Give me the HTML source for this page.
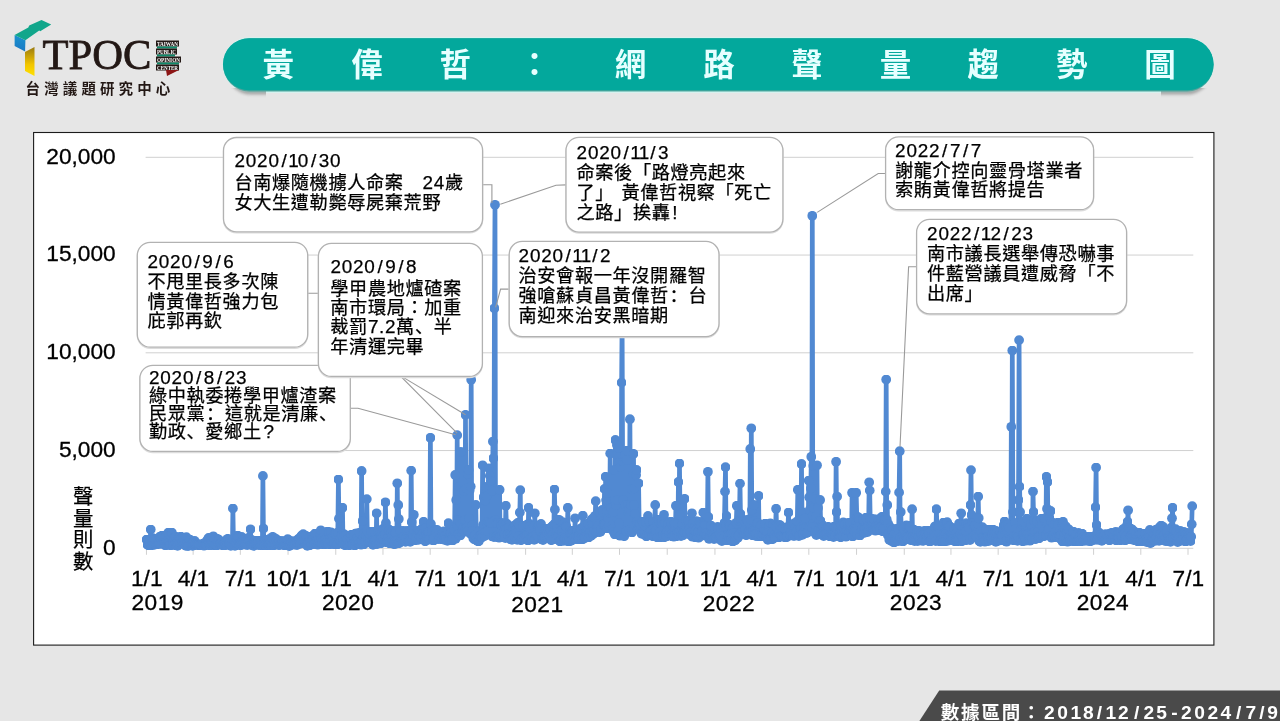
<!DOCTYPE html>
<html lang="zh-Hant">
<head>
<meta charset="utf-8">
<title>黃偉哲：網路聲量趨勢圖</title>
<style>
html,body{margin:0;padding:0;background:#e6e6e6;}
body{width:1280px;height:721px;overflow:hidden;font-family:'Liberation Sans', 'Noto Sans CJK TC', sans-serif;}
svg{display:block;position:absolute;left:0;top:0;}
text{font-family:'Liberation Sans', 'Noto Sans CJK TC', sans-serif;}
.jp{font-family:'Liberation Sans','Noto Sans CJK JP',sans-serif;}
.sc{font-family:'Liberation Sans','Noto Sans CJK SC',sans-serif;}
</style>
</head>
<body>
<svg width="1280" height="721" viewBox="0 0 1280 721">
<defs>
<linearGradient id="gy" x1="0" y1="0" x2="0" y2="1"><stop offset="0" stop-color="#9a7a10"/><stop offset="0.6" stop-color="#f2c500"/><stop offset="1" stop-color="#ffe100"/></linearGradient>
<filter id="sh" x="-5%" y="-20%" width="110%" height="150%"><feGaussianBlur stdDeviation="1.6"/></filter>
</defs>
<rect width="1280" height="721" fill="#e6e6e6"/>
<g id="logo">
<linearGradient id="gb" x1="0" y1="0" x2="0" y2="1"><stop offset="0" stop-color="#1a93cf"/><stop offset="1" stop-color="#1b78c4"/></linearGradient>
<polygon points="14.6,35 25.4,40.2 25.1,51.6 14.6,45.9" fill="url(#gb)"/>
<polygon points="14.6,35 28.3,27.5 29.2,25.6 41.5,19.9 51.2,24.6 40.2,31.2 39.2,30.4 25.4,40.2" fill="#11a68b"/>
<polygon points="25,52 34.5,47 34.5,76 25,71" fill="url(#gy)"/>
<text x="42.6" y="68.8" font-size="42.5" style="font-family:'Liberation Serif', 'Noto Serif CJK SC', serif" fill="#231815" stroke="#231815" stroke-width="0.8" textLength="108.8" lengthAdjust="spacingAndGlyphs">TPOC</text>
<g font-size="5.4" font-weight="bold" fill="#fff">
<rect x="156" y="40.5" width="23" height="6" fill="#231815"/>
<text x="157" y="45.5" style="font-family:'Liberation Serif', 'Noto Serif CJK SC', serif" textLength="21" lengthAdjust="spacingAndGlyphs">TAIWAN</text>
<rect x="157" y="46.5" width="20" height="2" fill="#0f8a6a"/>
<rect x="156" y="48.5" width="21" height="6" fill="#231815"/>
<text x="157" y="53.5" style="font-family:'Liberation Serif', 'Noto Serif CJK SC', serif" textLength="19" lengthAdjust="spacingAndGlyphs">PUBLIC</text>
<rect x="157" y="54.5" width="18" height="2" fill="#0f8a6a"/>
<rect x="156" y="56.5" width="25" height="6" fill="#231815"/>
<text x="157" y="61.5" style="font-family:'Liberation Serif', 'Noto Serif CJK SC', serif" textLength="23" lengthAdjust="spacingAndGlyphs">OPINION</text>
<rect x="157" y="62.5" width="22" height="2" fill="#0f8a6a"/>
<rect x="156" y="64.5" width="23" height="6" fill="#231815"/>
<text x="157" y="69.5" style="font-family:'Liberation Serif', 'Noto Serif CJK SC', serif" textLength="21" lengthAdjust="spacingAndGlyphs">CENTER</text>
</g>
<polygon points="166,70 179,70 167,76" fill="#8c1515"/>
<text x="25.6" y="94.4" font-size="14.5" font-weight="bold" fill="#231815" letter-spacing="4.1">台灣議題研究中心</text>
</g>
<g id="banner">
<rect x="222.5" y="37.2" width="991.4" height="55.5" rx="27.7" fill="#d3f6f2"/>
<clipPath id="capL"><rect x="224" y="88" width="42" height="12"/></clipPath>
<clipPath id="capR"><rect x="1161" y="88" width="56" height="12"/></clipPath>
<g clip-path="url(#capL)"><rect x="226" y="44" width="988" height="50.6" rx="25.3" fill="#4d4d4d" opacity="0.42" filter="url(#sh)"/></g>
<g clip-path="url(#capR)"><rect x="224" y="44" width="988" height="50.6" rx="25.3" fill="#4d4d4d" opacity="0.42" filter="url(#sh)"/></g>
<rect x="223" y="38.2" width="990.6" height="53.3" rx="26.6" fill="#4fa39b"/>
<rect x="223" y="38.2" width="990.6" height="52" rx="26" fill="#03a89c"/>
<text id="title" x="278.3 367.0 455.3 534.6 630.4 719.0 807.1 895.6 983.3 1071.8 1160.0" y="75.9" font-size="31.5" font-weight="bold" fill="#e6ffff" text-anchor="middle">黃偉哲：網路聲量趨勢圖</text>
</g>
<g id="chart">
<rect x="33.6" y="132.5" width="1180.3" height="512.6" fill="#fff" stroke="#1c1c1c" stroke-width="1.1"/>
<g stroke="#d0d0d0" stroke-width="1">
<line x1="145.6" x2="1193.3" y1="548.30" y2="548.30"/>
<line x1="145.6" x2="1193.3" y1="450.55" y2="450.55"/>
<line x1="145.6" x2="1193.3" y1="352.80" y2="352.80"/>
<line x1="145.6" x2="1193.3" y1="255.05" y2="255.05"/>
<line x1="145.6" x2="1193.3" y1="157.30" y2="157.30"/>
<line x1="146.45" x2="146.45" y1="548.3" y2="554.8"/>
<line x1="193.13" x2="193.13" y1="548.3" y2="554.8"/>
<line x1="240.33" x2="240.33" y1="548.3" y2="554.8"/>
<line x1="288.06" x2="288.06" y1="548.3" y2="554.8"/>
<line x1="335.78" x2="335.78" y1="548.3" y2="554.8"/>
<line x1="382.98" x2="382.98" y1="548.3" y2="554.8"/>
<line x1="430.18" x2="430.18" y1="548.3" y2="554.8"/>
<line x1="477.90" x2="477.90" y1="548.3" y2="554.8"/>
<line x1="525.62" x2="525.62" y1="548.3" y2="554.8"/>
<line x1="572.30" x2="572.30" y1="548.3" y2="554.8"/>
<line x1="619.50" x2="619.50" y1="548.3" y2="554.8"/>
<line x1="667.22" x2="667.22" y1="548.3" y2="554.8"/>
<line x1="714.95" x2="714.95" y1="548.3" y2="554.8"/>
<line x1="761.63" x2="761.63" y1="548.3" y2="554.8"/>
<line x1="808.83" x2="808.83" y1="548.3" y2="554.8"/>
<line x1="856.55" x2="856.55" y1="548.3" y2="554.8"/>
<line x1="904.27" x2="904.27" y1="548.3" y2="554.8"/>
<line x1="950.95" x2="950.95" y1="548.3" y2="554.8"/>
<line x1="998.16" x2="998.16" y1="548.3" y2="554.8"/>
<line x1="1045.88" x2="1045.88" y1="548.3" y2="554.8"/>
<line x1="1093.60" x2="1093.60" y1="548.3" y2="554.8"/>
<line x1="1140.80" x2="1140.80" y1="548.3" y2="554.8"/>
<line x1="1188.00" x2="1188.00" y1="548.3" y2="554.8"/>
</g>
<g font-size="22.7" fill="#000" stroke="#000" stroke-width="0.3">
<text x="115.7" y="554.50" text-anchor="end">0</text>
<text x="115.7" y="456.75" text-anchor="end">5,000</text>
<text x="115.7" y="359.00" text-anchor="end">10,000</text>
<text x="115.7" y="261.25" text-anchor="end">15,000</text>
<text x="115.7" y="163.50" text-anchor="end">20,000</text>
<text x="146.75" y="586" text-anchor="middle">1/1</text>
<text x="131.55" y="609.50" letter-spacing="0.45">2019</text>
<text x="193.43" y="586" text-anchor="middle">4/1</text>
<text x="240.63" y="586" text-anchor="middle">7/1</text>
<text x="288.36" y="586" text-anchor="middle">10/1</text>
<text x="336.08" y="586" text-anchor="middle">1/1</text>
<text x="321.98" y="609.80" letter-spacing="0.45">2020</text>
<text x="383.28" y="586" text-anchor="middle">4/1</text>
<text x="430.48" y="586" text-anchor="middle">7/1</text>
<text x="478.20" y="586" text-anchor="middle">10/1</text>
<text x="525.92" y="586" text-anchor="middle">1/1</text>
<text x="511.22" y="612.30" letter-spacing="0.45">2021</text>
<text x="572.60" y="586" text-anchor="middle">4/1</text>
<text x="619.80" y="586" text-anchor="middle">7/1</text>
<text x="667.52" y="586" text-anchor="middle">10/1</text>
<text x="715.25" y="586" text-anchor="middle">1/1</text>
<text x="702.75" y="610.50" letter-spacing="0.45">2022</text>
<text x="761.93" y="586" text-anchor="middle">4/1</text>
<text x="809.13" y="586" text-anchor="middle">7/1</text>
<text x="856.85" y="586" text-anchor="middle">10/1</text>
<text x="904.57" y="586" text-anchor="middle">1/1</text>
<text x="889.87" y="609.80" letter-spacing="0.45">2023</text>
<text x="951.25" y="586" text-anchor="middle">4/1</text>
<text x="998.46" y="586" text-anchor="middle">7/1</text>
<text x="1046.18" y="586" text-anchor="middle">10/1</text>
<text x="1093.90" y="586" text-anchor="middle">1/1</text>
<text x="1076.80" y="610.20" letter-spacing="0.45">2024</text>
<text x="1141.10" y="586" text-anchor="middle">4/1</text>
<text x="1188.30" y="586" text-anchor="middle">7/1</text>
</g>
<text x="83.3 83.3 83.3 83.3" y="504.0 525.6 547.2 568.8" font-size="20.4" fill="#000" text-anchor="middle" stroke="#000" stroke-width="0.25">聲量則數</text>
<marker id="dot" viewBox="0 0 10 10" refX="5" refY="5" markerWidth="9.8" markerHeight="9.8" markerUnits="userSpaceOnUse"><circle cx="5" cy="5" r="5" fill="#5189d2"/></marker>
<polyline id="series" points="146.6,539.6 147.1,539.6 147.6,544.9 148.2,545.1 148.7,544.8 149.2,545.3 149.7,542.4 150.2,539.4 150.7,529.5 151.3,545.4 151.8,544.6 152.3,541.7 152.8,538.2 153.3,542.0 153.8,539.2 154.4,544.8 154.9,544.4 155.4,540.8 155.9,544.2 156.4,539.2 156.9,544.6 157.5,539.0 158.0,543.4 158.5,539.6 159.0,543.3 159.5,543.3 160.0,536.5 160.6,543.8 161.1,538.5 161.6,536.5 162.1,535.5 162.6,538.0 163.1,535.9 163.7,543.9 164.2,541.7 164.7,537.0 165.2,545.3 165.7,537.1 166.2,542.5 166.8,545.1 167.3,542.5 167.8,540.2 168.3,532.6 168.8,541.3 169.3,543.2 169.9,545.0 170.4,544.8 170.9,535.4 171.4,545.2 171.9,532.6 172.4,544.4 173.0,544.5 173.5,541.2 174.0,538.1 174.5,544.6 175.0,537.0 175.5,536.6 176.1,545.6 176.6,542.9 177.1,543.0 177.6,545.8 178.1,539.5 178.6,544.3 179.2,537.6 179.7,542.1 180.2,538.2 180.7,536.5 181.2,538.2 181.7,543.4 182.3,541.4 182.8,537.4 183.3,537.7 183.8,541.6 184.3,539.0 184.8,544.8 185.4,541.8 185.9,545.8 186.4,537.2 186.9,543.6 187.4,544.3 187.9,545.9 188.5,545.8 189.0,543.1 189.5,545.1 190.0,539.6 190.5,544.4 191.0,543.1 191.6,545.0 192.1,543.9 192.6,545.9 193.1,544.3 193.6,542.0 194.2,544.4 194.7,541.0 195.2,545.1 195.7,543.2 196.2,544.6 196.7,544.0 197.3,543.8 197.8,545.1 198.3,544.9 198.8,544.8 199.3,545.0 199.8,544.9 200.4,545.0 200.9,544.5 201.4,544.7 201.9,544.4 202.4,545.5 202.9,543.6 203.5,544.5 204.0,545.7 204.5,543.0 205.0,545.0 205.5,544.6 206.0,545.0 206.6,544.5 207.1,544.9 207.6,539.6 208.1,540.0 208.6,538.0 209.1,543.5 209.7,538.1 210.2,545.5 210.7,543.1 211.2,540.1 211.7,539.1 212.2,542.2 212.8,542.4 213.3,536.3 213.8,542.4 214.3,539.4 214.8,545.6 215.3,545.2 215.9,544.4 216.4,544.8 216.9,545.4 217.4,538.8 217.9,542.9 218.4,539.7 219.0,539.9 219.5,544.6 220.0,544.2 220.5,542.9 221.0,543.5 221.5,543.0 222.1,545.2 222.6,541.7 223.1,544.9 223.6,544.2 224.1,544.6 224.6,545.5 225.2,543.1 225.7,544.4 226.2,540.5 226.7,540.3 227.2,543.9 227.7,538.8 228.3,539.3 228.8,544.9 229.3,543.7 229.8,539.6 230.3,544.0 230.8,545.8 231.4,545.0 231.9,542.8 232.4,545.6 232.9,508.4 233.4,539.0 233.9,543.8 234.5,538.0 235.0,545.9 235.5,543.1 236.0,541.6 236.5,542.5 237.0,538.4 237.6,535.5 238.1,537.0 238.6,544.4 239.1,544.8 239.6,543.4 240.2,542.1 240.7,545.3 241.2,543.2 241.7,537.0 242.2,541.4 242.7,544.1 243.3,539.9 243.8,542.2 244.3,538.6 244.8,543.6 245.3,544.7 245.8,544.4 246.4,539.2 246.9,543.5 247.4,545.0 247.9,539.2 248.4,539.6 248.9,537.6 249.5,540.6 250.0,544.1 250.5,529.3 251.0,544.8 251.5,539.8 252.0,544.1 252.6,545.1 253.1,544.0 253.6,545.9 254.1,542.8 254.6,540.7 255.1,540.4 255.7,544.1 256.2,543.0 256.7,544.4 257.2,543.5 257.7,543.3 258.2,545.0 258.8,540.8 259.3,544.4 259.8,543.0 260.3,544.4 260.8,545.2 261.3,542.9 261.9,540.5 262.4,545.3 262.9,475.9 263.4,528.5 263.9,541.6 264.4,544.0 265.0,541.2 265.5,544.9 266.0,545.6 266.5,542.7 267.0,539.8 267.5,543.8 268.1,543.5 268.6,545.0 269.1,542.7 269.6,539.0 270.1,544.2 270.6,542.1 271.2,545.6 271.7,542.3 272.2,543.9 272.7,536.8 273.2,539.5 273.7,545.3 274.3,541.9 274.8,544.9 275.3,544.2 275.8,538.7 276.3,541.2 276.8,540.3 277.4,540.6 277.9,543.5 278.4,545.1 278.9,544.2 279.4,542.7 279.9,545.0 280.5,540.9 281.0,543.5 281.5,544.6 282.0,544.5 282.5,541.3 283.1,544.5 283.6,542.1 284.1,541.2 284.6,545.5 285.1,545.1 285.6,541.3 286.2,543.4 286.7,545.1 287.2,544.8 287.7,539.1 288.2,544.4 288.7,540.2 289.3,546.0 289.8,541.7 290.3,543.7 290.8,545.1 291.3,541.7 291.8,542.1 292.4,544.4 292.9,541.2 293.4,543.6 293.9,544.2 294.4,544.7 294.9,541.9 295.5,544.5 296.0,541.1 296.5,543.7 297.0,545.1 297.5,542.5 298.0,540.1 298.6,538.8 299.1,538.6 299.6,542.1 300.1,543.7 300.6,543.6 301.1,536.6 301.7,535.5 302.2,535.6 302.7,540.7 303.2,534.2 303.7,541.6 304.2,535.8 304.8,541.8 305.3,542.4 305.8,535.7 306.3,543.6 306.8,544.2 307.3,545.9 307.9,543.7 308.4,545.0 308.9,541.7 309.4,545.5 309.9,541.6 310.4,536.7 311.0,544.1 311.5,539.2 312.0,541.0 312.5,544.4 313.0,535.6 313.5,538.9 314.1,543.8 314.6,535.6 315.1,533.4 315.6,542.0 316.1,543.1 316.6,533.5 317.2,541.4 317.7,544.7 318.2,542.6 318.7,539.4 319.2,542.2 319.7,541.4 320.3,533.3 320.8,530.3 321.3,539.6 321.8,539.8 322.3,544.0 322.8,537.4 323.4,540.5 323.9,544.4 324.4,544.5 324.9,540.2 325.4,543.3 325.9,543.5 326.5,538.4 327.0,541.8 327.5,531.5 328.0,543.8 328.5,538.9 329.1,532.3 329.6,544.4 330.1,538.4 330.6,540.8 331.1,532.3 331.6,540.7 332.2,537.2 332.7,540.9 333.2,537.9 333.7,544.2 334.2,543.0 334.7,533.4 335.3,533.9 335.8,543.7 336.3,533.9 336.8,544.3 337.3,544.5 337.8,532.4 338.4,479.4 338.9,518.6 339.4,540.0 339.9,539.8 340.4,540.2 340.9,540.8 341.5,535.0 342.0,535.0 342.5,507.7 343.0,542.2 343.5,544.4 344.0,534.2 344.6,535.4 345.1,545.3 345.6,535.3 346.1,542.9 346.6,543.2 347.1,544.1 347.7,539.1 348.2,543.4 348.7,538.5 349.2,545.3 349.7,544.6 350.2,541.7 350.8,538.7 351.3,534.7 351.8,539.1 352.3,544.8 352.8,535.2 353.3,544.1 353.9,536.3 354.4,543.7 354.9,545.4 355.4,533.6 355.9,541.2 356.4,533.3 357.0,538.3 357.5,542.5 358.0,540.2 358.5,544.3 359.0,543.7 359.5,532.7 360.1,544.6 360.6,541.9 361.1,544.7 361.6,471.0 362.1,541.2 362.6,521.0 363.2,536.0 363.7,544.5 364.2,533.5 364.7,540.5 365.2,541.5 365.7,541.8 366.3,536.0 366.8,499.1 367.3,531.4 367.8,539.8 368.3,540.9 368.8,542.2 369.4,542.0 369.9,540.1 370.4,534.6 370.9,531.9 371.4,540.9 371.9,542.8 372.5,531.9 373.0,544.9 373.5,544.1 374.0,539.8 374.5,531.7 375.1,540.4 375.6,540.0 376.1,543.7 376.6,513.3 377.1,544.1 377.6,539.6 378.2,531.5 378.7,530.7 379.2,542.8 379.7,530.3 380.2,539.6 380.7,543.4 381.3,538.7 381.8,531.4 382.3,539.2 382.8,537.7 383.3,528.6 383.8,530.2 384.4,529.4 384.9,534.3 385.4,502.3 385.9,523.0 386.4,542.3 386.9,540.9 387.5,528.5 388.0,537.4 388.5,541.8 389.0,531.0 389.5,530.0 390.0,543.6 390.6,541.6 391.1,531.7 391.6,539.1 392.1,536.4 392.6,530.9 393.1,541.1 393.7,541.0 394.2,544.2 394.7,542.1 395.2,532.1 395.7,543.7 396.2,530.9 396.8,541.3 397.3,483.3 397.8,543.5 398.3,505.0 398.8,519.0 399.3,543.1 399.9,530.9 400.4,538.3 400.9,538.9 401.4,531.1 401.9,538.2 402.4,541.3 403.0,539.9 403.5,530.9 404.0,538.2 404.5,536.0 405.0,540.2 405.5,541.8 406.1,537.9 406.6,531.6 407.1,530.9 407.6,535.8 408.1,538.1 408.6,540.7 409.2,541.3 409.7,531.2 410.2,541.9 410.7,530.9 411.2,470.6 411.7,522.0 412.3,540.2 412.8,532.5 413.3,536.1 413.8,514.8 414.3,530.9 414.8,540.2 415.4,539.7 415.9,536.5 416.4,539.9 416.9,532.4 417.4,537.0 417.9,530.9 418.5,539.8 419.0,532.1 419.5,536.8 420.0,531.8 420.5,536.6 421.1,537.2 421.6,530.9 422.1,528.5 422.6,539.4 423.1,533.1 423.6,521.7 424.2,536.5 424.7,536.7 425.2,541.3 425.7,528.1 426.2,535.3 426.7,539.9 427.3,537.8 427.8,536.4 428.3,531.7 428.8,531.5 429.3,538.8 429.8,539.7 430.4,437.7 430.9,524.0 431.4,532.4 431.9,530.0 432.4,531.8 432.9,538.3 433.5,540.6 434.0,538.2 434.5,538.1 435.0,529.9 435.5,530.0 436.0,532.2 436.6,536.6 437.1,529.9 437.6,535.6 438.1,539.1 438.6,534.7 439.1,538.8 439.7,532.5 440.2,537.2 440.7,534.5 441.2,536.7 441.7,537.6 442.2,539.4 442.8,539.0 443.3,532.6 443.8,531.3 444.3,539.8 444.8,535.6 445.3,537.0 445.9,539.1 446.4,538.2 446.9,532.7 447.4,540.8 447.9,532.7 448.4,523.2 449.0,537.9 449.5,539.6 450.0,534.2 450.5,532.8 451.0,532.9 451.5,540.1 452.1,539.3 452.6,540.5 453.1,535.5 453.6,538.2 454.1,531.1 454.6,529.8 455.2,475.0 455.7,538.7 456.2,500.0 456.7,524.4 457.2,435.1 457.7,520.0 458.3,533.8 458.8,534.8 459.3,486.5 459.8,521.7 460.3,535.5 460.8,452.0 461.4,524.0 461.9,532.3 462.4,481.6 462.9,529.6 463.4,527.4 463.9,491.1 464.5,531.8 465.0,519.9 465.5,414.8 466.0,528.0 466.5,488.5 467.1,527.4 467.6,474.0 468.1,531.3 468.6,470.0 469.1,518.5 469.6,490.4 470.2,533.6 470.7,486.4 471.2,379.7 471.7,528.0 472.2,525.2 472.7,530.8 473.3,538.2 473.8,536.2 474.3,539.3 474.8,535.4 475.3,535.3 475.8,505.0 476.4,539.6 476.9,540.6 477.4,538.4 477.9,541.1 478.4,541.4 478.9,540.9 479.5,530.9 480.0,535.4 480.5,536.7 481.0,535.3 481.5,535.0 482.0,537.4 482.6,465.3 483.1,525.0 483.6,497.3 484.1,524.7 484.6,536.0 485.1,500.6 485.7,531.4 486.2,487.0 486.7,496.4 487.2,523.6 487.7,531.1 488.2,521.4 488.8,468.3 489.3,522.0 489.8,475.6 490.3,522.9 490.8,481.1 491.3,523.1 491.9,490.8 492.4,536.6 492.9,441.5 493.4,458.3 493.9,537.0 494.4,308.3 495.0,204.8 495.5,520.0 496.0,536.8 496.5,523.2 497.0,535.7 497.5,523.6 498.1,535.0 498.6,537.2 499.1,537.7 499.6,489.7 500.1,535.6 500.6,523.0 501.2,525.1 501.7,531.2 502.2,535.4 502.7,525.8 503.2,523.2 503.7,537.3 504.3,534.4 504.8,525.7 505.3,538.0 505.8,505.7 506.3,523.3 506.8,528.6 507.4,534.4 507.9,534.2 508.4,525.2 508.9,527.5 509.4,533.4 509.9,535.1 510.5,539.3 511.0,537.9 511.5,538.2 512.0,539.9 512.5,539.6 513.1,527.9 513.6,534.4 514.1,534.2 514.6,536.8 515.1,525.2 515.6,525.2 516.2,529.3 516.7,532.7 517.2,539.8 517.7,522.9 518.2,523.2 518.7,535.9 519.3,525.4 519.8,512.5 520.3,490.1 520.8,540.1 521.3,540.1 521.8,538.4 522.4,537.9 522.9,525.6 523.4,538.5 523.9,537.2 524.4,527.3 524.9,534.0 525.5,535.0 526.0,536.0 526.5,525.9 527.0,535.3 527.5,524.3 528.0,540.5 528.6,507.7 529.1,534.1 529.6,523.9 530.1,526.1 530.6,530.1 531.1,537.9 531.7,528.7 532.2,537.6 532.7,539.5 533.2,536.2 533.7,526.4 534.2,539.9 534.8,513.3 535.3,539.0 535.8,535.0 536.3,535.4 536.8,533.2 537.3,526.6 537.9,527.9 538.4,536.3 538.9,525.3 539.4,538.1 539.9,529.9 540.4,537.7 541.0,524.0 541.5,539.3 542.0,538.5 542.5,538.4 543.0,540.1 543.5,536.0 544.1,536.8 544.6,529.0 545.1,536.9 545.6,536.4 546.1,530.0 546.6,536.1 547.2,531.9 547.7,537.9 548.2,528.6 548.7,537.6 549.2,534.5 549.7,536.9 550.3,528.8 550.8,537.1 551.3,540.2 551.8,526.6 552.3,526.4 552.8,534.4 553.4,539.4 553.9,524.4 554.4,489.4 554.9,509.5 555.4,523.5 556.0,534.7 556.5,524.8 557.0,531.9 557.5,519.9 558.0,535.3 558.5,536.3 559.1,519.8 559.6,540.9 560.1,541.4 560.6,530.8 561.1,540.0 561.6,530.5 562.2,532.4 562.7,522.2 563.2,536.5 563.7,540.8 564.2,538.1 564.7,523.2 565.3,538.7 565.8,526.1 566.3,526.8 566.8,540.8 567.3,539.4 567.8,507.7 568.4,541.2 568.9,541.2 569.4,538.4 569.9,531.3 570.4,541.0 570.9,533.5 571.5,540.4 572.0,533.9 572.5,539.7 573.0,530.4 573.5,532.9 574.0,535.8 574.6,536.8 575.1,518.3 575.6,539.3 576.1,536.3 576.6,539.4 577.1,530.7 577.7,536.0 578.2,536.5 578.7,538.4 579.2,535.1 579.7,539.5 580.2,530.4 580.8,528.4 581.3,529.5 581.8,538.0 582.3,539.5 582.8,515.6 583.3,526.7 583.9,538.3 584.4,525.9 584.9,536.5 585.4,537.8 585.9,532.1 586.4,525.2 587.0,533.3 587.5,535.5 588.0,523.4 588.5,537.6 589.0,533.9 589.5,522.9 590.1,532.2 590.6,522.3 591.1,535.9 591.6,519.5 592.1,532.1 592.6,523.1 593.2,534.0 593.7,517.6 594.2,532.7 594.7,530.5 595.2,515.8 595.7,501.1 596.3,532.3 596.8,524.0 597.3,526.7 597.8,531.0 598.3,525.5 598.8,513.6 599.4,532.1 599.9,512.5 600.4,531.7 600.9,530.0 601.4,528.6 602.0,510.2 602.5,510.1 603.0,511.7 603.5,524.7 604.0,524.3 604.5,488.9 605.1,523.8 605.6,476.7 606.1,500.1 606.6,512.0 607.1,528.5 607.6,493.1 608.2,518.0 608.7,510.5 609.2,525.4 609.7,512.9 610.2,453.4 610.7,528.9 611.3,508.0 611.8,525.6 612.3,513.5 612.8,528.5 613.3,512.1 613.8,532.0 614.4,470.0 614.9,534.5 615.4,440.0 615.9,505.0 616.4,454.9 616.9,445.0 617.5,500.0 618.0,531.2 618.5,447.6 619.0,523.1 619.5,462.0 620.0,535.7 620.6,467.2 621.1,535.2 621.6,382.6 622.1,320.0 622.6,461.2 623.1,500.0 623.7,457.4 624.2,536.2 624.7,456.9 625.2,455.0 625.7,505.0 626.2,531.1 626.8,450.6 627.3,460.0 627.8,511.4 628.3,505.0 628.8,509.4 629.3,530.3 629.9,419.2 630.4,509.4 630.9,505.0 631.4,489.3 631.9,532.6 632.4,530.6 633.0,474.1 633.5,453.8 634.0,505.0 634.5,488.4 635.0,513.9 635.5,525.1 636.1,475.1 636.6,470.0 637.1,521.4 637.6,524.5 638.1,529.1 638.6,483.3 639.2,525.0 639.7,528.3 640.2,524.5 640.7,529.6 641.2,532.9 641.7,533.8 642.3,521.4 642.8,531.0 643.3,523.6 643.8,531.3 644.3,534.4 644.8,532.1 645.4,526.3 645.9,522.4 646.4,536.4 646.9,534.8 647.4,534.0 648.0,515.9 648.5,519.8 649.0,534.4 649.5,521.8 650.0,530.1 650.5,530.3 651.1,531.0 651.6,530.3 652.1,535.7 652.6,529.7 653.1,521.5 653.6,536.5 654.2,535.7 654.7,528.3 655.2,504.9 655.7,536.6 656.2,530.4 656.7,521.2 657.3,537.4 657.8,525.6 658.3,519.6 658.8,521.4 659.3,520.0 659.8,531.3 660.4,537.4 660.9,523.5 661.4,536.0 661.9,522.0 662.4,536.9 662.9,534.9 663.5,519.5 664.0,514.8 664.5,537.2 665.0,522.9 665.5,534.7 666.0,534.6 666.6,536.4 667.1,530.8 667.6,522.3 668.1,524.3 668.6,530.5 669.1,533.4 669.7,531.5 670.2,528.4 670.7,521.5 671.2,523.0 671.7,534.1 672.2,536.2 672.8,536.6 673.3,526.1 673.8,536.7 674.3,524.8 674.8,523.7 675.3,535.9 675.9,505.7 676.4,536.3 676.9,533.9 677.4,523.9 677.9,534.8 678.4,482.0 679.0,535.2 679.5,463.4 680.0,515.0 680.5,530.7 681.0,536.1 681.5,531.7 682.1,523.7 682.6,533.6 683.1,535.2 683.6,530.9 684.1,532.2 684.6,498.8 685.2,532.5 685.7,523.6 686.2,520.5 686.7,527.7 687.2,532.6 687.7,522.6 688.3,520.8 688.8,525.8 689.3,523.4 689.8,528.2 690.3,534.9 690.8,532.8 691.4,531.6 691.9,513.3 692.4,536.7 692.9,523.5 693.4,534.4 694.0,536.5 694.5,536.9 695.0,527.0 695.5,530.7 696.0,537.6 696.5,521.1 697.1,536.6 697.6,532.8 698.1,532.3 698.6,537.7 699.1,523.9 699.6,521.9 700.2,523.9 700.7,533.0 701.2,524.9 701.7,535.7 702.2,531.7 702.7,530.8 703.3,512.5 703.8,524.3 704.3,533.3 704.8,534.4 705.3,524.8 705.8,534.7 706.4,532.6 706.9,535.4 707.4,524.6 707.9,471.8 708.4,517.0 708.9,538.7 709.5,538.7 710.0,535.9 710.5,531.8 711.0,525.5 711.5,533.6 712.0,535.2 712.6,538.3 713.1,536.5 713.6,527.4 714.1,539.0 714.6,527.9 715.1,537.9 715.7,537.3 716.2,537.5 716.7,536.5 717.2,537.8 717.7,527.0 718.2,528.5 718.8,539.1 719.3,536.2 719.8,533.2 720.3,535.1 720.8,528.0 721.3,537.3 721.9,541.0 722.4,535.8 722.9,526.7 723.4,538.5 723.9,525.7 724.4,523.0 725.0,491.5 725.5,467.1 726.0,525.1 726.5,516.0 727.0,540.4 727.5,534.8 728.1,536.6 728.6,535.8 729.1,524.5 729.6,539.0 730.1,525.4 730.6,534.9 731.2,539.1 731.7,533.1 732.2,528.6 732.7,541.6 733.2,527.2 733.7,532.9 734.3,540.2 734.8,540.2 735.3,540.2 735.8,535.3 736.3,522.8 736.8,505.7 737.4,537.2 737.9,537.7 738.4,524.5 738.9,535.5 739.4,521.0 740.0,483.6 740.5,514.0 741.0,519.4 741.5,533.3 742.0,531.0 742.5,519.6 743.1,531.3 743.6,521.0 744.1,533.8 744.6,526.0 745.1,528.6 745.6,522.6 746.2,535.2 746.7,534.5 747.2,520.1 747.7,520.0 748.2,531.6 748.7,522.5 749.3,531.8 749.8,533.1 750.3,449.0 750.8,519.9 751.3,428.3 751.8,510.0 752.4,535.3 752.9,531.1 753.4,530.4 753.9,505.0 754.4,521.1 754.9,531.0 755.5,533.6 756.0,536.1 756.5,534.4 757.0,523.3 757.5,533.0 758.0,522.9 758.6,495.8 759.1,536.4 759.6,533.4 760.1,526.8 760.6,535.1 761.1,525.1 761.7,524.9 762.2,536.6 762.7,536.6 763.2,534.3 763.7,534.1 764.2,529.1 764.8,524.7 765.3,523.5 765.8,535.5 766.3,537.3 766.8,536.0 767.3,532.1 767.9,539.9 768.4,539.1 768.9,526.2 769.4,531.7 769.9,538.8 770.4,523.3 771.0,537.2 771.5,537.9 772.0,532.8 772.5,539.2 773.0,524.5 773.5,531.0 774.1,537.7 774.6,534.9 775.1,537.4 775.6,526.2 776.1,508.7 776.6,527.3 777.2,534.9 777.7,537.5 778.2,534.3 778.7,537.6 779.2,532.9 779.7,525.0 780.3,535.4 780.8,525.9 781.3,535.8 781.8,527.9 782.3,536.4 782.8,527.9 783.4,527.8 783.9,536.6 784.4,537.1 784.9,528.5 785.4,537.4 786.0,528.1 786.5,536.7 787.0,537.0 787.5,536.0 788.0,526.7 788.5,512.5 789.1,527.9 789.6,535.3 790.1,535.2 790.6,525.5 791.1,532.3 791.6,535.2 792.2,524.8 792.7,534.0 793.2,535.9 793.7,532.7 794.2,523.3 794.7,535.9 795.3,527.5 795.8,531.9 796.3,531.5 796.8,532.8 797.3,521.3 797.8,489.7 798.4,529.0 798.9,536.1 799.4,535.4 799.9,527.9 800.4,523.5 800.9,528.3 801.5,464.0 802.0,512.0 802.5,534.9 803.0,533.6 803.5,525.9 804.0,527.9 804.6,531.5 805.1,518.1 805.6,532.7 806.1,526.9 806.6,532.7 807.1,532.9 807.7,527.4 808.2,531.7 808.7,480.5 809.2,497.3 809.7,510.0 810.2,526.7 810.8,488.4 811.3,456.7 811.8,527.3 812.3,215.8 812.8,515.3 813.3,465.7 813.9,508.0 814.4,530.6 814.9,532.8 815.4,498.9 815.9,516.8 816.4,535.0 817.0,465.3 817.5,532.5 818.0,508.0 818.5,530.3 819.0,522.3 819.5,520.4 820.1,500.0 820.6,520.9 821.1,530.0 821.6,534.4 822.1,524.6 822.6,533.4 823.2,526.3 823.7,536.0 824.2,535.6 824.7,534.0 825.2,530.3 825.7,533.2 826.3,530.0 826.8,528.8 827.3,535.4 827.8,532.9 828.3,526.8 828.9,532.5 829.4,528.0 829.9,536.4 830.4,527.5 830.9,533.0 831.4,529.9 832.0,533.5 832.5,531.3 833.0,533.1 833.5,537.1 834.0,526.6 834.5,526.7 835.1,535.8 835.6,526.6 836.1,461.7 836.6,512.0 837.1,496.5 837.6,526.0 838.2,536.0 838.7,527.5 839.2,535.1 839.7,532.1 840.2,533.1 840.7,537.3 841.3,525.4 841.8,531.7 842.3,531.4 842.8,536.1 843.3,522.3 843.8,528.7 844.4,535.0 844.9,524.5 845.4,532.4 845.9,536.7 846.4,530.3 846.9,529.7 847.5,530.3 848.0,524.8 848.5,523.0 849.0,531.1 849.5,531.6 850.0,522.6 850.6,533.2 851.1,532.2 851.6,533.1 852.1,492.7 852.6,536.5 853.1,529.5 853.7,529.1 854.2,530.8 854.7,534.7 855.2,531.8 855.7,520.0 856.2,492.7 856.8,517.5 857.3,534.7 857.8,517.0 858.3,517.6 858.8,518.0 859.3,519.7 859.9,535.6 860.4,525.8 860.9,530.8 861.4,530.3 861.9,528.9 862.4,519.5 863.0,519.5 863.5,519.5 864.0,530.5 864.5,532.8 865.0,527.9 865.5,528.9 866.1,517.5 866.6,519.2 867.1,528.2 867.6,532.0 868.1,530.6 868.6,526.1 869.2,482.3 869.7,490.4 870.2,519.0 870.7,527.5 871.2,526.4 871.7,519.0 872.3,525.6 872.8,523.6 873.3,529.7 873.8,519.1 874.3,529.6 874.9,528.4 875.4,530.7 875.9,526.1 876.4,525.4 876.9,529.3 877.4,519.3 878.0,522.2 878.5,530.5 879.0,525.0 879.5,528.1 880.0,529.8 880.5,518.4 881.1,519.5 881.6,526.4 882.1,516.7 882.6,531.3 883.1,529.5 883.6,528.1 884.2,520.5 884.7,519.8 885.2,520.0 885.7,491.6 886.2,379.5 886.7,519.4 887.3,505.0 887.8,535.0 888.3,523.9 888.8,532.4 889.3,539.7 889.8,539.2 890.4,536.0 890.9,527.7 891.4,541.0 891.9,530.2 892.4,537.3 892.9,537.5 893.5,540.9 894.0,542.5 894.5,533.6 895.0,541.5 895.5,532.6 896.0,538.2 896.6,529.0 897.1,537.5 897.6,535.1 898.1,528.5 898.6,541.0 899.1,492.4 899.7,451.2 900.2,537.1 900.7,512.0 901.2,526.2 901.7,536.5 902.2,538.7 902.8,541.5 903.3,527.5 903.8,528.3 904.3,537.5 904.8,539.8 905.3,534.9 905.9,536.0 906.4,525.3 906.9,537.1 907.4,539.5 907.9,539.4 908.4,538.7 909.0,525.4 909.5,536.2 910.0,526.9 910.5,535.6 911.0,540.2 911.5,539.1 912.1,509.2 912.6,536.0 913.1,536.3 913.6,529.4 914.1,538.5 914.6,541.1 915.2,534.8 915.7,538.6 916.2,535.7 916.7,539.6 917.2,530.8 917.7,541.0 918.3,536.4 918.8,537.8 919.3,531.0 919.8,539.7 920.3,539.2 920.9,533.9 921.4,533.2 921.9,540.7 922.4,535.5 922.9,539.7 923.4,540.9 924.0,538.3 924.5,530.9 925.0,531.2 925.5,534.2 926.0,538.4 926.5,540.6 927.1,540.1 927.6,536.2 928.1,530.7 928.6,534.9 929.1,533.2 929.6,541.5 930.2,541.3 930.7,532.8 931.2,540.1 931.7,531.2 932.2,536.8 932.7,540.4 933.3,538.6 933.8,531.7 934.3,536.6 934.8,526.4 935.3,527.6 935.8,541.0 936.4,509.2 936.9,525.1 937.4,533.9 937.9,526.3 938.4,536.5 938.9,525.8 939.5,533.5 940.0,541.4 940.5,540.0 941.0,538.3 941.5,540.0 942.0,539.8 942.6,541.5 943.1,540.6 943.6,522.4 944.1,533.1 944.6,536.4 945.1,541.3 945.7,534.2 946.2,523.2 946.7,538.6 947.2,522.1 947.7,540.8 948.2,536.2 948.8,537.6 949.3,525.9 949.8,526.6 950.3,539.5 950.8,536.9 951.3,536.7 951.9,538.4 952.4,540.2 952.9,539.3 953.4,530.6 953.9,528.1 954.4,540.7 955.0,541.3 955.5,529.2 956.0,540.2 956.5,532.6 957.0,541.6 957.5,539.7 958.1,536.5 958.6,539.9 959.1,523.4 959.6,524.7 960.1,533.6 960.6,525.2 961.2,513.3 961.7,541.3 962.2,536.4 962.7,538.0 963.2,540.5 963.7,538.5 964.3,524.9 964.8,527.1 965.3,540.5 965.8,531.2 966.3,523.1 966.9,537.4 967.4,539.6 967.9,524.9 968.4,533.3 968.9,527.6 969.4,539.2 970.0,540.1 970.5,505.0 971.0,470.1 971.5,515.0 972.0,523.1 972.5,536.5 973.1,537.2 973.6,523.0 974.1,525.8 974.6,535.1 975.1,525.5 975.6,533.6 976.2,536.6 976.7,534.8 977.2,536.8 977.7,523.9 978.2,496.5 978.7,518.0 979.3,541.1 979.8,536.0 980.3,541.9 980.8,540.1 981.3,531.3 981.8,537.9 982.4,527.1 982.9,537.1 983.4,529.5 983.9,539.0 984.4,529.5 984.9,541.7 985.5,540.2 986.0,529.4 986.5,529.5 987.0,537.0 987.5,536.7 988.0,537.2 988.6,541.0 989.1,540.5 989.6,529.4 990.1,538.0 990.6,529.4 991.1,539.4 991.7,538.3 992.2,539.9 992.7,534.5 993.2,529.6 993.7,537.6 994.2,536.8 994.8,540.6 995.3,530.5 995.8,541.9 996.3,539.0 996.8,532.3 997.3,539.6 997.9,540.0 998.4,540.8 998.9,535.5 999.4,540.2 999.9,534.6 1000.4,532.0 1001.0,536.9 1001.5,540.6 1002.0,534.5 1002.5,535.4 1003.0,528.9 1003.5,525.5 1004.1,527.4 1004.6,521.4 1005.1,526.1 1005.6,541.2 1006.1,525.3 1006.6,541.7 1007.2,539.5 1007.7,524.5 1008.2,524.6 1008.7,533.4 1009.2,527.8 1009.7,538.4 1010.3,536.4 1010.8,539.1 1011.3,426.8 1011.8,538.5 1012.3,350.5 1012.9,512.0 1013.4,540.3 1013.9,539.0 1014.4,534.9 1014.9,522.9 1015.4,529.3 1016.0,537.7 1016.5,534.6 1017.0,537.2 1017.5,540.8 1018.0,536.8 1018.5,500.0 1019.1,340.1 1019.6,486.6 1020.1,512.0 1020.6,529.9 1021.1,539.3 1021.6,523.8 1022.2,521.7 1022.7,541.3 1023.2,534.1 1023.7,521.5 1024.2,536.1 1024.7,533.0 1025.3,538.4 1025.8,540.7 1026.3,532.7 1026.8,518.6 1027.3,535.9 1027.8,533.4 1028.4,534.2 1028.9,538.1 1029.4,520.8 1029.9,540.7 1030.4,535.1 1030.9,524.0 1031.5,538.1 1032.0,538.8 1032.5,538.9 1033.0,491.5 1033.5,512.0 1034.0,520.6 1034.6,532.1 1035.1,539.0 1035.6,537.3 1036.1,538.9 1036.6,520.7 1037.1,521.4 1037.7,532.2 1038.2,536.0 1038.7,537.2 1039.2,538.3 1039.7,536.6 1040.2,520.8 1040.8,534.9 1041.3,518.7 1041.8,530.0 1042.3,524.9 1042.8,536.5 1043.3,531.4 1043.9,519.9 1044.4,536.0 1044.9,518.3 1045.4,528.7 1045.9,535.1 1046.4,476.7 1047.0,508.7 1047.5,482.0 1048.0,530.6 1048.5,531.8 1049.0,529.0 1049.5,517.6 1050.1,536.1 1050.6,511.0 1051.1,521.6 1051.6,537.7 1052.1,537.6 1052.6,523.1 1053.2,533.9 1053.7,535.9 1054.2,534.3 1054.7,524.8 1055.2,537.6 1055.7,531.5 1056.3,535.6 1056.8,537.2 1057.3,537.3 1057.8,522.5 1058.3,525.1 1058.9,536.9 1059.4,537.1 1059.9,536.2 1060.4,538.7 1060.9,535.7 1061.4,534.8 1062.0,523.8 1062.5,541.6 1063.0,521.7 1063.5,536.8 1064.0,537.8 1064.5,533.6 1065.1,529.1 1065.6,526.2 1066.1,540.6 1066.6,538.6 1067.1,531.7 1067.6,541.7 1068.2,528.9 1068.7,541.3 1069.2,530.0 1069.7,537.3 1070.2,540.1 1070.7,540.7 1071.3,533.3 1071.8,537.0 1072.3,541.1 1072.8,532.1 1073.3,531.5 1073.8,538.1 1074.4,541.3 1074.9,538.4 1075.4,540.6 1075.9,539.6 1076.4,533.7 1076.9,541.3 1077.5,534.3 1078.0,540.9 1078.5,533.0 1079.0,539.3 1079.5,539.8 1080.0,535.4 1080.6,539.7 1081.1,541.4 1081.6,533.5 1082.1,533.8 1082.6,537.5 1083.1,539.6 1083.7,536.9 1084.2,539.8 1084.7,540.8 1085.2,539.4 1085.7,539.7 1086.2,540.4 1086.8,537.2 1087.3,536.9 1087.8,540.9 1088.3,539.1 1088.8,537.0 1089.3,539.2 1089.9,537.7 1090.4,541.3 1090.9,536.9 1091.4,539.6 1091.9,539.1 1092.4,540.0 1093.0,536.8 1093.5,540.1 1094.0,538.9 1094.5,536.2 1095.0,538.8 1095.5,507.2 1096.1,467.5 1096.6,525.0 1097.1,539.8 1097.6,538.8 1098.1,535.2 1098.6,532.3 1099.2,533.2 1099.7,538.3 1100.2,539.9 1100.7,539.7 1101.2,534.5 1101.8,540.9 1102.3,535.6 1102.8,537.4 1103.3,537.6 1103.8,537.7 1104.3,535.8 1104.9,539.6 1105.4,534.2 1105.9,539.2 1106.4,537.9 1106.9,539.3 1107.4,535.8 1108.0,539.3 1108.5,535.4 1109.0,534.0 1109.5,540.4 1110.0,536.9 1110.5,534.0 1111.1,538.5 1111.6,532.8 1112.1,538.8 1112.6,533.9 1113.1,538.6 1113.6,536.2 1114.2,537.7 1114.7,536.0 1115.2,538.9 1115.7,531.9 1116.2,540.4 1116.7,536.5 1117.3,536.8 1117.8,533.3 1118.3,536.8 1118.8,532.3 1119.3,537.8 1119.8,533.0 1120.4,540.4 1120.9,532.4 1121.4,538.2 1121.9,538.9 1122.4,535.6 1122.9,529.6 1123.5,528.9 1124.0,533.3 1124.5,533.7 1125.0,540.3 1125.5,537.3 1126.0,539.7 1126.6,535.4 1127.1,525.0 1127.6,521.7 1128.1,510.3 1128.6,538.2 1129.1,527.8 1129.7,539.3 1130.2,529.8 1130.7,528.6 1131.2,536.2 1131.7,535.2 1132.2,529.4 1132.8,539.7 1133.3,532.7 1133.8,536.0 1134.3,531.5 1134.8,536.4 1135.3,540.5 1135.9,537.0 1136.4,532.6 1136.9,538.6 1137.4,540.7 1137.9,541.4 1138.4,534.7 1139.0,532.4 1139.5,534.8 1140.0,538.6 1140.5,540.8 1141.0,540.4 1141.5,533.8 1142.1,541.1 1142.6,541.3 1143.1,539.6 1143.6,541.5 1144.1,538.4 1144.6,540.7 1145.2,533.5 1145.7,533.6 1146.2,539.5 1146.7,542.1 1147.2,541.6 1147.8,533.2 1148.3,540.6 1148.8,532.8 1149.3,537.5 1149.8,529.9 1150.3,543.1 1150.9,542.7 1151.4,530.4 1151.9,539.9 1152.4,531.5 1152.9,538.3 1153.4,538.9 1154.0,534.7 1154.5,539.6 1155.0,532.0 1155.5,540.9 1156.0,529.6 1156.5,537.8 1157.1,532.6 1157.6,537.2 1158.1,531.9 1158.6,538.1 1159.1,540.9 1159.6,527.3 1160.2,534.6 1160.7,538.6 1161.2,525.5 1161.7,539.6 1162.2,536.9 1162.7,536.9 1163.3,527.0 1163.8,535.2 1164.3,534.6 1164.8,539.8 1165.3,541.0 1165.8,538.6 1166.4,531.5 1166.9,530.6 1167.4,538.5 1167.9,539.4 1168.4,541.4 1168.9,536.3 1169.5,538.0 1170.0,540.0 1170.5,541.9 1171.0,538.7 1171.5,527.5 1172.0,518.3 1172.6,507.7 1173.1,537.4 1173.6,529.6 1174.1,529.8 1174.6,537.1 1175.1,537.9 1175.7,529.1 1176.2,538.0 1176.7,531.1 1177.2,539.0 1177.7,542.0 1178.2,537.0 1178.8,535.0 1179.3,537.5 1179.8,532.9 1180.3,530.9 1180.8,540.9 1181.3,532.5 1181.9,533.8 1182.4,540.0 1182.9,534.3 1183.4,539.1 1183.9,531.9 1184.4,539.3 1185.0,532.8 1185.5,541.6 1186.0,534.8 1186.5,540.2 1187.0,540.6 1187.5,538.8 1188.1,533.1 1188.6,533.2 1189.1,535.4 1189.6,537.6 1190.1,540.0 1190.6,541.1 1191.2,536.6 1191.7,524.3 1192.2,506.1" fill="none" stroke="#5189d2" stroke-width="4.7" stroke-linejoin="round" stroke-linecap="round" marker-start="url(#dot)" marker-mid="url(#dot)" marker-end="url(#dot)"/>
<g fill="none" stroke="#9a9a9a" stroke-width="1.1">
<polyline points="482.6,184.7 491.9,184.7 491.9,203.0"/>
<polyline points="566.0,184.9 556.0,185.2 500.3,204.3"/>
<polyline points="307.7,293.3 318.4,293.3 457.1,433.1"/>
<polyline points="401.6,376.4 465.5,414.8"/>
<polyline points="350.3,408.3 358.0,408.3 455.6,434.7"/>
<polyline points="508.8,289.1 500.6,289.1 495.6,307.3"/>
<polyline points="885.6,173.5 878.2,173.5 817.2,212.4"/>
<polyline points="916.6,266.8 908.6,266.8 900.0,447.0"/>
</g>
<g class="callout">
<rect x="223.5" y="138.6" width="259.1" height="94.3" rx="13" fill="#fff" stroke="#dcdcdc" stroke-width="1.3"/>
<rect x="223.5" y="137.5" width="259.1" height="94.3" rx="13" fill="#fff" stroke="#b2b2b2" stroke-width="1.3"/>
<text y="167.3" fill="#000" stroke="#000" stroke-width="0.25"><tspan x="234.5 245.8 257.1 268.4 281.5 288.2 297.8 310.9 318.7 330.0" font-size="18.9">2020/10/30</tspan></text>
<text y="188.5" fill="#000" stroke="#000" stroke-width="0.25"><tspan x="234.4 253.2 272.0 290.8 309.6 328.4 347.2 366.0 384.8 403.6" font-size="18.2">台南爆隨機擄人命案　</tspan><tspan x="422.5 433.8" font-size="18.9">24</tspan><tspan x="445.0" font-size="18.2">歲</tspan></text>
<text y="208.5" fill="#000" stroke="#000" stroke-width="0.25"><tspan x="234.4 253.2 272.0 290.8 309.6 328.4 347.2 366.0 384.8 403.6 422.4" font-size="18.2">女大生遭勒斃辱屍棄荒野</tspan></text>
</g>
<g class="callout">
<rect x="137.3" y="243.4" width="170.4" height="104.9" rx="13" fill="#fff" stroke="#dcdcdc" stroke-width="1.3"/>
<rect x="137.3" y="242.3" width="170.4" height="104.9" rx="13" fill="#fff" stroke="#b2b2b2" stroke-width="1.3"/>
<text y="267.6" fill="#000" stroke="#000" stroke-width="0.25"><tspan x="147.5 158.8 170.1 181.4 194.5 202.3 215.4 223.2" font-size="18.9">2020/9/6</tspan></text>
<text y="288.4" fill="#000" stroke="#000" stroke-width="0.25"><tspan x="147.4 166.2 185.0 203.8 222.6 241.4 260.2" font-size="18.2">不甩里長多次陳</tspan></text>
<text y="307.6" fill="#000" stroke="#000" stroke-width="0.25"><tspan x="147.4 166.2 185.0 203.8 222.6 241.4 260.2" font-size="18.2">情黃偉哲強力包</tspan></text>
<text y="326.8" fill="#000" stroke="#000" stroke-width="0.25"><tspan x="147.4 166.2 185.0 203.8" font-size="18.2">庇郭再欽</tspan></text>
</g>
<g class="callout">
<rect x="139.9" y="366.4" width="210.4" height="86.1" rx="13" fill="#fff" stroke="#dcdcdc" stroke-width="1.3"/>
<rect x="139.9" y="365.3" width="210.4" height="86.1" rx="13" fill="#fff" stroke="#b2b2b2" stroke-width="1.3"/>
<text y="383.7" fill="#000" stroke="#000" stroke-width="0.25"><tspan x="149.0 160.3 171.6 182.9 196.0 203.8 216.9 224.7 236.0" font-size="18.9">2020/8/23</tspan></text>
<text y="402.0" fill="#000" stroke="#000" stroke-width="0.25"><tspan x="148.9 167.7 186.5 205.3 224.1 242.9 261.7 280.5 299.3 318.1" font-size="18.2">綠中執委捲學甲爐渣案</tspan></text>
<text y="419.9" fill="#000" stroke="#000" stroke-width="0.25"><tspan x="148.9 167.7 186.5 205.9 224.9 243.7 262.5 281.3 300.1 318.9" font-size="18.2">民眾黨<tspan class="sc" lang="zh-Hans">：</tspan>這就是清廉<tspan class="jp" lang="ja">、</tspan></tspan></text>
<text y="437.8" fill="#000" stroke="#000" stroke-width="0.25"><tspan x="148.9 167.7 186.5 205.3 224.1 242.9" font-size="18.2">勤政<tspan class="jp" lang="ja">、</tspan>愛鄉土</tspan><tspan x="263.4" font-size="18.9">?</tspan></text>
</g>
<g class="callout">
<rect x="318.4" y="244.5" width="164.0" height="133.0" rx="13" fill="#fff" stroke="#dcdcdc" stroke-width="1.3"/>
<rect x="318.4" y="243.4" width="164.0" height="133.0" rx="13" fill="#fff" stroke="#b2b2b2" stroke-width="1.3"/>
<text y="272.9" fill="#000" stroke="#000" stroke-width="0.25"><tspan x="330.4 341.7 353.0 364.3 377.4 385.2 398.3 406.1" font-size="18.9">2020/9/8</tspan></text>
<text y="294.7" fill="#000" stroke="#000" stroke-width="0.25"><tspan x="330.3 349.1 367.9 386.7 405.5 424.3 443.1" font-size="18.2">學甲農地爐碴案</tspan></text>
<text y="314.0" fill="#000" stroke="#000" stroke-width="0.25"><tspan x="330.3 349.1 367.9 386.7 405.5 424.3 443.1" font-size="18.2">南市環局：加重</tspan></text>
<text y="333.3" fill="#000" stroke="#000" stroke-width="0.25"><tspan x="330.3 349.1" font-size="18.2">裁罰</tspan><tspan x="368.0 379.1 384.9" font-size="18.9">7.2</tspan><tspan x="396.1 414.9 433.7" font-size="18.2">萬<tspan class="jp" lang="ja">、</tspan>半</tspan></text>
<text y="352.6" fill="#000" stroke="#000" stroke-width="0.25"><tspan x="330.3 349.1 367.9 386.7 405.5" font-size="18.2">年清運完畢</tspan></text>
</g>
<g class="callout">
<rect x="566.0" y="138.4" width="216.9" height="94.8" rx="13" fill="#fff" stroke="#dcdcdc" stroke-width="1.3"/>
<rect x="566.0" y="137.3" width="216.9" height="94.8" rx="13" fill="#fff" stroke="#b2b2b2" stroke-width="1.3"/>
<text y="158.5" fill="#000" stroke="#000" stroke-width="0.25"><tspan x="576.6 587.9 599.2 610.5 623.6 630.3 638.8 650.2 658.0" font-size="18.9">2020/11/3</tspan></text>
<text y="178.8" fill="#000" stroke="#000" stroke-width="0.25"><tspan x="576.5 595.3 614.1 632.9 651.7 670.5 689.3 708.1 726.9" font-size="18.2">命案後「路燈亮起來</tspan></text>
<text y="198.6" fill="#000" stroke="#000" stroke-width="0.25"><tspan x="576.5 595.3 613.8 621.5 640.3 659.1 677.9 696.7 715.5 734.3 753.1" font-size="18.2">了」 黃偉哲視察「死亡</tspan></text>
<text y="218.5" fill="#000" stroke="#000" stroke-width="0.25"><tspan x="576.5 595.3 614.1 632.9 651.7" font-size="18.2">之路」挨轟</tspan><tspan x="672.2" font-size="18.9">!</tspan></text>
</g>
<g class="callout">
<rect x="509.2" y="242.5" width="209.8" height="95.2" rx="13" fill="#fff" stroke="#dcdcdc" stroke-width="1.3"/>
<rect x="509.2" y="241.4" width="209.8" height="95.2" rx="13" fill="#fff" stroke="#b2b2b2" stroke-width="1.3"/>
<text y="261.5" fill="#000" stroke="#000" stroke-width="0.25"><tspan x="518.6 529.9 541.2 552.5 565.6 572.3 580.8 592.2 600.0" font-size="18.9">2020/11/2</tspan></text>
<text y="282.3" fill="#000" stroke="#000" stroke-width="0.25"><tspan x="518.5 537.3 556.1 574.9 593.7 612.5 631.3 650.1 668.9 687.7" font-size="18.2">治安會報一年沒開羅智</tspan></text>
<text y="302.1" fill="#000" stroke="#000" stroke-width="0.25"><tspan x="518.5 537.3 556.1 574.9 593.7 612.5 631.3 650.1 669.5 688.5" font-size="18.2">強嗆蘇貞昌黃偉哲<tspan class="sc" lang="zh-Hans">：</tspan>台</tspan></text>
<text y="322.0" fill="#000" stroke="#000" stroke-width="0.25"><tspan x="518.5 537.3 556.1 574.9 593.7 612.5 631.3 650.1" font-size="18.2">南迎來治安黑暗期</tspan></text>
</g>
<g class="callout">
<rect x="885.6" y="138.0" width="208.0" height="72.8" rx="13" fill="#fff" stroke="#dcdcdc" stroke-width="1.3"/>
<rect x="885.6" y="136.9" width="208.0" height="72.8" rx="13" fill="#fff" stroke="#b2b2b2" stroke-width="1.3"/>
<text y="156.5" fill="#000" stroke="#000" stroke-width="0.25"><tspan x="895.1 906.4 917.7 929.0 942.1 949.9 963.0 970.8" font-size="18.9">2022/7/7</tspan></text>
<text y="176.5" fill="#000" stroke="#000" stroke-width="0.25"><tspan x="895.0 913.8 932.6 951.4 970.2 989.0 1007.8 1026.6 1045.4 1064.2" font-size="18.2">謝龍介控向靈骨塔業者</tspan></text>
<text y="196.4" fill="#000" stroke="#000" stroke-width="0.25"><tspan x="895.0 913.8 932.6 951.4 970.2 989.0 1007.8 1026.6" font-size="18.2">索賄黃偉哲將提告</tspan></text>
</g>
<g class="callout">
<rect x="916.6" y="220.4" width="210.0" height="94.5" rx="13" fill="#fff" stroke="#dcdcdc" stroke-width="1.3"/>
<rect x="916.6" y="219.3" width="210.0" height="94.5" rx="13" fill="#fff" stroke="#b2b2b2" stroke-width="1.3"/>
<text y="239.5" fill="#000" stroke="#000" stroke-width="0.25"><tspan x="927.1 938.4 949.7 961.0 974.1 980.8 990.4 1003.5 1011.3 1022.6" font-size="18.9">2022/12/23</tspan></text>
<text y="260.0" fill="#000" stroke="#000" stroke-width="0.25"><tspan x="927.0 945.8 964.6 983.4 1002.2 1021.0 1039.8 1058.6 1077.4 1096.2" font-size="18.2">南市議長選舉傳恐嚇事</tspan></text>
<text y="279.9" fill="#000" stroke="#000" stroke-width="0.25"><tspan x="927.0 945.8 964.6 983.4 1002.2 1021.0 1039.8 1058.6 1077.4 1096.2" font-size="18.2">件藍營議員遭威脅「不</tspan></text>
<text y="299.7" fill="#000" stroke="#000" stroke-width="0.25"><tspan x="927.0 945.8 964.6" font-size="18.2">出席」</tspan></text>
</g>
</g>
<g id="footer">
<polygon points="939.2,690.6 1280,690.6 1280,721 919.4,721" fill="#4a4a4a"/>
<text y="719.3" font-weight="bold" fill="#fff"><tspan x="940.8" font-size="18.5" letter-spacing="1.8">數據區間：</tspan><tspan x="1043.9 1057.2 1070.5 1082.9 1096.8 1105.6 1118.1 1133.9 1143.4 1156.3 1171.3 1180.9 1194.2 1207.5 1220.4 1235.9 1245.4 1259.3 1267.3" font-size="19.2">2018/12/25-2024/7/9</tspan></text>
</g>
</svg>
</body>
</html>
